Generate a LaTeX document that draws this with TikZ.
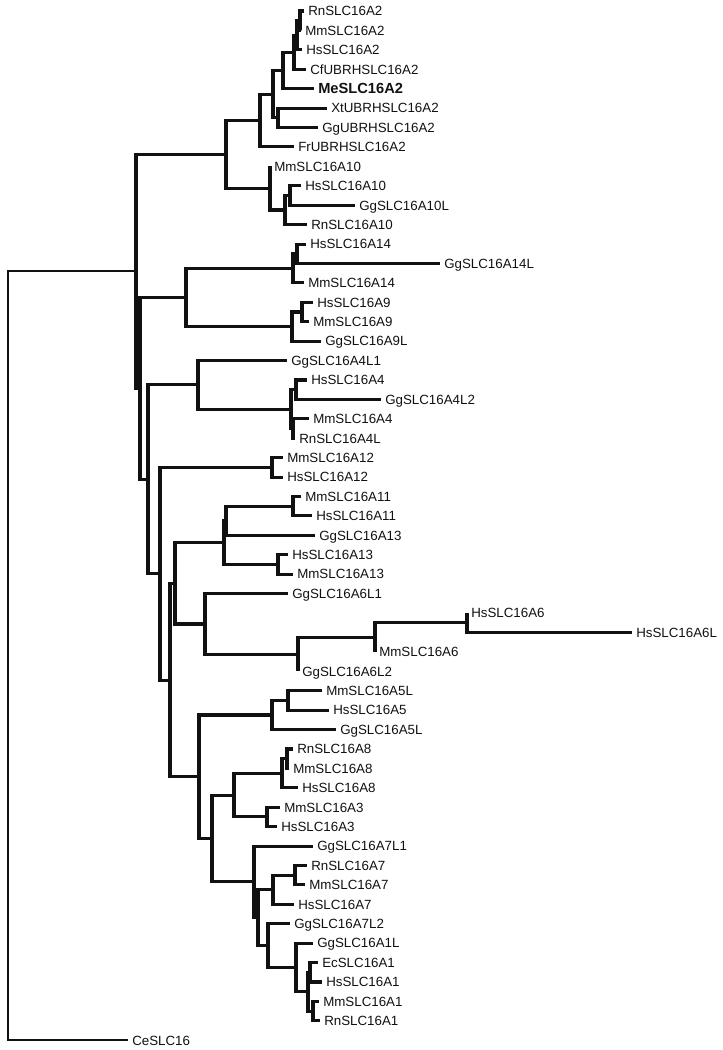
\documentclass[tikz,border=0pt]{standalone}
\usepackage{fontspec}
\setmainfont{Liberation Sans}
\usepackage{tikz}
\usetikzlibrary{positioning}
\definecolor{ink}{HTML}{111111}

\begin{document}
\begin{tikzpicture}[x=0.75pt,y=-0.75pt,
  branch/.style={draw=ink,line width=2.3pt},
  rootbranch/.style={draw=ink,line width=1.6pt},
  leaf/.style={anchor=west,inner xsep=3pt,inner ysep=0pt,text height=7.2pt,text depth=0pt,
    font=\fontsize{10}{12}\selectfont,text=ink}]
  \useasboundingbox (0,0) rectangle (722,1050);

  % leaves, one row each
  \foreach \i/\x/\nm/\lab in {1/304/rn2/RnSLC16A2,2/301/mm2/MmSLC16A2,3/302/hs2/HsSLC16A2,
      4/306/cf2/CfUBRHSLC16A2,6/327/xt2/XtUBRHSLC16A2,7/318/gg2/GgUBRHSLC16A2,
      8/294/fr2/FrUBRHSLC16A2,9/270/mm10/MmSLC16A10,10/301/hs10/HsSLC16A10,
      11/355/gg10/GgSLC16A10L,12/307/rn10/RnSLC16A10,13/306/hs14/HsSLC16A14,
      14/440/gg14/GgSLC16A14L,15/304/mm14/MmSLC16A14,16/313/hs9/HsSLC16A9,
      17/309/mm9/MmSLC16A9,18/321/gg9/GgSLC16A9L,19/287/gg4a/GgSLC16A4L1,
      20/307/hs4/HsSLC16A4,21/381/gg4b/GgSLC16A4L2,22/309/mm4/MmSLC16A4,
      23/295/rn4/RnSLC16A4L,24/283/mm12/MmSLC16A12,25/283/hs12/HsSLC16A12,
      26/301/mm11/MmSLC16A11,27/312/hs11/HsSLC16A11,28/315/gg13/GgSLC16A13,
      29/288/hs13/HsSLC16A13,30/293/mm13/MmSLC16A13,31/288/gg6a/GgSLC16A6L1,
      32/467/hs6/HsSLC16A6,33/632/hs6l/HsSLC16A6L,34/375/mm6/MmSLC16A6,
      35/298/gg6b/GgSLC16A6L2,36/322/mm5/MmSLC16A5L,37/329/hs5/HsSLC16A5,
      38/336/gg5/GgSLC16A5L,39/293/rn8/RnSLC16A8,40/289/mm8/MmSLC16A8,
      41/298/hs8/HsSLC16A8,42/280/mm3/MmSLC16A3,43/277/hs3/HsSLC16A3,
      44/313/gg7a/GgSLC16A7L1,45/307/rn7/RnSLC16A7,46/305/mm7/MmSLC16A7,
      47/294/hs7/HsSLC16A7,48/290/gg7b/GgSLC16A7L2,49/313/gg1/GgSLC16A1L,
      50/318/ec1/EcSLC16A1,51/322/hs1/HsSLC16A1,52/319/mm1/MmSLC16A1,
      53/320/rn1/RnSLC16A1,54/128/ce/CeSLC16} {
    \node[leaf] (\nm) at (\x,{11+(\i-1)*19.42}) {\lab};
  }
  \node[leaf,font=\fontsize{11}{13}\bfseries] (me2) at (314,{11+4*19.42}) {MeSLC16A2};

  % inner nodes: x of the vertical, y where the parent joins
  \coordinate (s2) at (300,20.7);   \coordinate (r2) at (297,35.3);
  \coordinate (q2) at (294,52.3);   \coordinate (m2) at (283,70.5);
  \coordinate (x2) at (278,117.8);  \coordinate (p2) at (273,94.2);
  \coordinate (a2) at (260,120.6);
  \coordinate (g10) at (290,195.5); \coordinate (h10) at (285,210);
  \coordinate (a10) at (270,188.2); \coordinate (top) at (226,154.4);
  \coordinate (a14s) at (297,253.8); \coordinate (a14) at (293,268.3);
  \coordinate (a9s) at (302,312);   \coordinate (a9) at (292,326.6);
  \coordinate (c149) at (186,297.4);
  \coordinate (a4s) at (296,389.7); \coordinate (a4r) at (293,428.5);
  \coordinate (a4m) at (291,409.1); \coordinate (a4) at (198,384.9);
  \coordinate (a12) at (272,467.4);
  \coordinate (a11) at (293,506.2); \coordinate (a13) at (278,564.5);
  \coordinate (c1113) at (226,520.8); \coordinate (c111313) at (224,542.7);
  \coordinate (a6d) at (467,622.7); \coordinate (a6c) at (375,637.3);
  \coordinate (a6b) at (298,654.3); \coordinate (a6) at (205,624);
  \coordinate (b6) at (175,583.4);
  \coordinate (a5s) at (288,700.4); \coordinate (a5) at (272,715);
  \coordinate (a8s) at (287,758.7); \coordinate (a8) at (282,773.3);
  \coordinate (a3) at (267,816.9);  \coordinate (a83) at (234,795.1);
  \coordinate (a7s) at (295,875.2); \coordinate (a7) at (273,889.8);
  \coordinate (a1h) at (310,972.3); \coordinate (a1r) at (313,1011.1);
  \coordinate (a1m) at (308,991.7); \coordinate (a1g) at (296,967.5);
  \coordinate (a1) at (268,945.6);  \coordinate (c71) at (258,917.7);
  \coordinate (a71) at (254,881.9); \coordinate (b8) at (212,838.5);
  \coordinate (b7) at (199,776.8);  \coordinate (b5) at (170,680.1);
  \coordinate (b4) at (160,573.8);  \coordinate (b3) at (148,479.4);
  \coordinate (b2) at (140,388.4);  \coordinate (b1) at (136,271.4);
  \coordinate (root) at (8,655);

  \foreach \p/\c in {s2/rn2,s2/mm2,r2/s2,r2/hs2,q2/r2,q2/cf2,m2/q2,m2/me2,x2/xt2,x2/gg2,
      p2/m2,p2/x2,a2/p2,a2/fr2,g10/hs10,g10/gg10,h10/g10,h10/rn10,a10/mm10,a10/h10,
      top/a2,top/a10,a14s/hs14,a14s/gg14,a14/a14s,a14/mm14,a9s/hs9,a9s/mm9,a9/a9s,a9/gg9,
      c149/a14,c149/a9,a4s/hs4,a4s/gg4b,a4r/mm4,a4r/rn4,a4m/a4s,a4m/a4r,a4/gg4a,a4/a4m,
      a12/mm12,a12/hs12,a11/mm11,a11/hs11,a13/hs13,a13/mm13,c1113/a11,c1113/gg13,
      c111313/c1113,c111313/a13,a6d/hs6,a6d/hs6l,a6c/a6d,a6c/mm6,a6b/a6c,a6b/gg6b,
      a6/gg6a,a6/a6b,b6/c111313,b6/a6,a5s/mm5,a5s/hs5,a5/a5s,a5/gg5,a8s/rn8,a8s/mm8,
      a8/a8s,a8/hs8,a3/mm3,a3/hs3,a83/a8,a83/a3,a7s/rn7,a7s/mm7,a7/a7s,a7/hs7,
      a1h/ec1,a1h/hs1,a1r/mm1,a1r/rn1,a1m/a1h,a1m/a1r,a1g/gg1,a1g/a1m,a1/gg7b,a1/a1g,
      c71/a7,c71/a1,a71/gg7a,a71/c71,b8/a83,b8/a71,b7/a5,b7/b8,b5/b6,b5/b7,b4/a12,b4/b5,
      b3/a4,b3/b4,b2/c149,b2/b3,b1/top,b1/b2} {
    \draw[branch] (\p) |- (\c);
  }
  \draw[rootbranch] (root) |- (b1);
  \draw[rootbranch] (root) |- (ce);
\end{tikzpicture}
\end{document}
